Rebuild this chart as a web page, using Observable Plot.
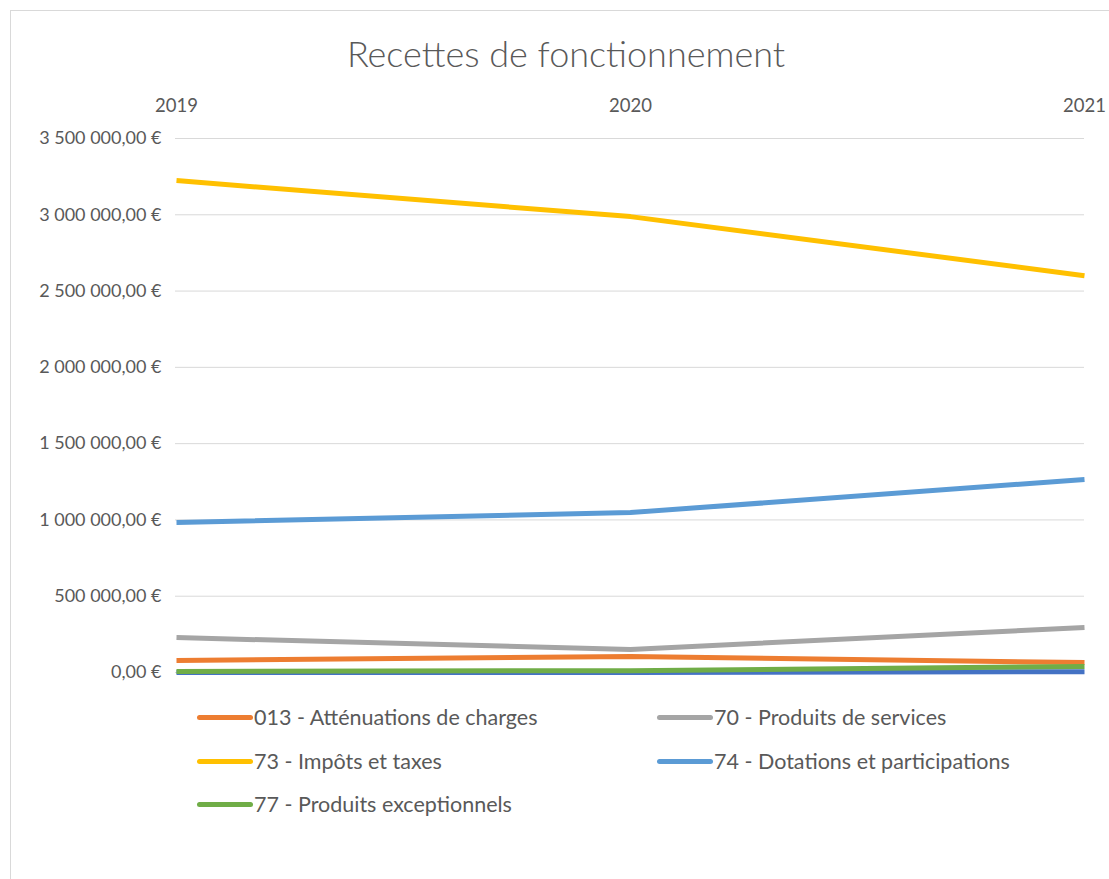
<!DOCTYPE html>
<html><head><meta charset="utf-8">
<script src="https://cdn.jsdelivr.net/npm/d3@7"></script>
<script src="https://cdn.jsdelivr.net/npm/@observablehq/plot@0.6"></script>
<style>
body{margin:0;background:#fff;font-family:Lato,"Open Sans",sans-serif;}
#wrap{position:relative;width:1109px;height:879px;overflow:hidden;}
#frame{position:absolute;left:10px;top:10px;width:1120px;height:900px;border:1px solid #d9d9d9;box-sizing:border-box;}
#title{position:absolute;left:0;width:1132px;top:31px;text-align:center;font-size:36px;color:#595959;font-weight:300;}
#chart{position:absolute;left:0;top:0;}
.leg{position:absolute;font-size:21.5px;color:#595959;display:flex;align-items:center;white-space:nowrap;}
.leg span.sw{display:inline-block;width:56px;height:5px;border-radius:3px;margin-right:1px;}
</style></head>
<body>
<div id="wrap">
<div id="frame"></div>
<div id="title">Recettes de fonctionnement</div>
<div id="chart"></div>
<div id="legend"></div>
</div>
<script>
const years = [2019, 2020, 2021];
const seriesNames = ["002 - Autres", "013 - Atténuations de charges", "70 - Produits de services", "73 - Impôts et taxes", "74 - Dotations et participations", "77 - Produits exceptionnels"];
const seriesColors = ["#4472C4", "#ED7D31", "#A5A5A5", "#FFC000", "#5B9BD5", "#70AD47"];
const inLegend = [false, true, true, true, true, true];
const v002 = [0, 0, 5000];
const v013 = [79000, 105000, 65000];
const v70 = [229000, 151000, 295000];
const v73 = [3224000, 2988000, 2601000];
const v74 = [983000, 1048000, 1265000];
const v77 = [7000, 12000, 40000];
const yTicks = [0, 500000, 1000000, 1500000, 2000000, 2500000, 3000000, 3500000];

const allValues = [v002, v013, v70, v73, v74, v77];
const data = [];
seriesNames.forEach((s, i) => years.forEach((y, j) => data.push({serie: s, year: y, value: allValues[i][j]})));

const loc = d3.formatLocale({decimal: ",", thousands: " ", grouping: [3], currency: ["", " €"]});
const fmt = loc.format(",.2f");
const fmtEuro = d => fmt(d) + " €";

const plot = Plot.plot({
  width: 1109,
  height: 690,
  marginTop: 138,
  marginBottom: 18,
  marginLeft: 175,
  marginRight: 25,
  style: {fontFamily: "Lato, 'Open Sans', sans-serif", fontSize: "18px", color: "#595959", background: "transparent"},
  x: {type: "point", domain: years, padding: 0},
  y: {domain: [0, 3500000]},
  color: {domain: seriesNames, range: seriesColors},
  marks: [
    Plot.gridY(yTicks, {stroke: "#d9d9d9", strokeOpacity: 1, strokeWidth: 1}),
    Plot.axisY(yTicks, {tickSize: 0, tickPadding: 14, tickFormat: fmtEuro, label: null, fontSize: 18, fill: "#595959"}),
    Plot.axisX(years, {anchor: "top", tickSize: 0, tickPadding: 27, tickFormat: d => String(d), label: null, fontSize: 18.5, fill: "#595959"}),
    Plot.line(data, {x: "year", y: "value", z: "serie", stroke: "serie", strokeWidth: 5, strokeLinecap: "butt", strokeLinejoin: "round"})
  ]
});
document.getElementById("chart").appendChild(plot);

const legend = document.getElementById("legend");
const pos = [[197, 718], [657, 718], [197, 762], [657, 762], [197, 805]];
let k = 0;
seriesNames.forEach((s, i) => {
  if (!inLegend[i]) return;
  const [x, y] = pos[k++];
  const d = document.createElement("div");
  d.className = "leg";
  d.style.left = x + "px";
  d.style.top = (y - 14) + "px";
  d.innerHTML = `<span class="sw" style="background:${seriesColors[i]}"></span>${s}`;
  legend.appendChild(d);
});
</script>
</body></html>
